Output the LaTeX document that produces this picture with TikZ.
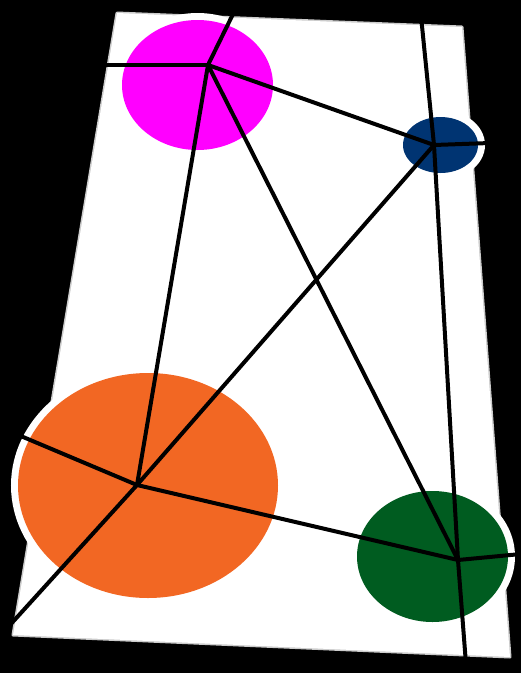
\documentclass[tikz,border=0pt]{standalone}
\usetikzlibrary{shapes.geometric}
\definecolor{cmag}{RGB}{255,0,255}
\definecolor{cnavy}{RGB}{0,52,114}
\definecolor{corange}{RGB}{242,103,35}
\definecolor{cgreen}{RGB}{0,92,32}
\begin{document}
\begin{tikzpicture}[x=1pt,y=-1pt]
\tikzset{
  blob/.style={ellipse, inner sep=0pt, outer sep=0pt, preaction={draw=white, line width=14pt}},
  link/.style={line width=4pt, draw=black, line cap=round, line join=round},
  sheet/.style={fill=white}
}
\fill[black] (0,0) rectangle (521,673);
\useasboundingbox (0,0) rectangle (521,673);
% white sheet with soft edge
\draw[gray!40, line width=3pt, line join=round] (117,13) -- (462,27) -- (510,657) -- (13,635) -- cycle;
\path[sheet] (117,13) -- (462,27) -- (510,657) -- (13,635) -- cycle;
% ellipses
\node[blob, fill=cmag, minimum width=151pt, minimum height=130pt] (mag) at (197.5,85) {};
\node[blob, fill=cnavy, minimum width=75pt, minimum height=56pt] (nav) at (440.5,145) {};
\node[blob, fill=corange, minimum width=260pt, minimum height=225pt] (ora) at (148,485.5) {};
\node[blob, fill=cgreen, minimum width=151pt, minimum height=131pt] (grn) at (432.5,556.5) {};
% hubs and free ends
\coordinate (hM) at (208,65);
\coordinate (hN) at (434,145);
\coordinate (hO) at (137,485);
\coordinate (hG) at (458,560);
\coordinate (eMt) at (236,8);
\coordinate (eMl) at (106,65);
\coordinate (eNt) at (421,16);
\coordinate (eNr) at (490,143);
\coordinate (eOl) at (16,434);
\coordinate (eOb) at (10,625);
\coordinate (eGr) at (521,554);
\coordinate (eGb) at (466,664);
% connectors
\draw[link] (hM) -- (hN);
\draw[link] (hM) -- (hO);
\draw[link] (hM) -- (hG);
\draw[link] (hN) -- (hO);
\draw[link] (hN) -- (hG);
\draw[link] (hO) -- (hG);
\draw[link] (hM) -- (eMt);
\draw[link] (hM) -- (eMl);
\draw[link] (hN) -- (eNt);
\draw[link] (hN) -- (eNr);
\draw[link] (hO) -- (eOl);
\draw[link] (hO) -- (eOb);
\draw[link] (hG) -- (eGr);
\draw[link] (hG) -- (eGb);
\end{tikzpicture}
\end{document}
